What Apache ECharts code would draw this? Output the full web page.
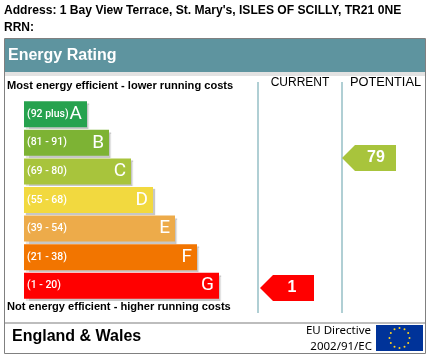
<!DOCTYPE html>
<html>
<head>
<meta charset="utf-8">
<title>Energy Rating</title>
<style>html,body{margin:0;padding:0;background:#fff}#chart{width:428px;height:358px}</style>
<script src="https://cdn.jsdelivr.net/npm/echarts@6/dist/echarts.min.js"></script>
</head>
<body>
<div id="chart"></div>
<script>
var letters = ['A', 'B', 'C', 'D', 'E', 'F', 'G'];
var ranges = ['(92 plus)', '(81 - 91)', '(69 - 80)', '(55 - 68)', '(39 - 54)', '(21 - 38)', '(1 - 20)'];
var barLengths = [63, 85, 107, 129, 151, 173, 195];
var barColors = ['#26A24E', '#7DB334', '#A8C43C', '#F2D93F', '#EDAB4A', '#F27500', '#FF0000'];
var columns = ['CURRENT', 'POTENTIAL'];
var ratings = [1, 79];
var ratingColors = ['#FF0000', '#A8C43C'];

var arrowPath = 'path://M0 13 L13 0 L54 0 L54 26 L13 26 Z';
var myChart = echarts.init(document.getElementById('chart'), null, { renderer: 'canvas' });

function text(x, y, str, font, fill, align) {
  return {
    type: 'text', x: x, y: y, z: 5,
    style: { text: str, font: font, fill: fill || '#000', textAlign: align || 'left', textVerticalAlign: 'middle' }
  };
}

// eu flag stars
var stars = [];
for (var i = 0; i < 12; ++i) {
  var a = i * Math.PI / 6;
  stars.push({
    type: 'circle', z: 6,
    shape: { cx: 399.5 + 10 * Math.sin(a), cy: 338 - 10 * Math.cos(a), r: 1 },
    style: { fill: '#FFD21E' }
  });
}

var option = {
  animation: false,
  backgroundColor: '#fff',
  grid: [
    { left: 24, top: 100, width: 240, height: 200 },
    { left: 258, top: 82, width: 168, height: 231 }
  ],
  xAxis: [
    { gridIndex: 0, type: 'value', min: 0, max: 240, show: false },
    {
      gridIndex: 1, type: 'category', position: 'top', data: columns,
      axisLine: { show: false }, axisTick: { show: false },
      axisLabel: {
        interval: 0, color: '#000', margin: -7,
        formatter: function (v) { return v === 'CURRENT' ? '{c|' + v + '}' : '{p|' + v + '}'; },
        rich: {
          c: { fontFamily: 'Liberation Sans', fontSize: 12 },
          p: { fontFamily: 'Liberation Sans', fontSize: 12.8, padding: [0, 0, 0, 3] }
        }
      },
      splitLine: { show: true, interval: 0, lineStyle: { width: 2, color: ['#B0CFD4', '#B0CFD4', 'transparent'] } }
    }
  ],
  yAxis: [
    { gridIndex: 0, type: 'category', inverse: true, data: letters, show: false },
    { gridIndex: 1, type: 'value', min: -14, max: 124.6, show: false }
  ],
  series: [
    {
      type: 'bar', xAxisIndex: 0, yAxisIndex: 0, barWidth: 26, silent: true,
      data: barLengths.map(function (v, i) {
        return { value: v, itemStyle: { color: barColors[i], shadowColor: 'rgba(0,0,0,0.22)', shadowBlur: 1, shadowOffsetX: 2, shadowOffsetY: 2 } };
      }),
      label: {
        show: true, position: 'insideLeft', distance: 3, color: '#fff',
        fontFamily: 'Roboto', fontWeight: 500, fontSize: 10.5,
        formatter: function (p) { return ranges[p.dataIndex]; }
      }
    },
    {
      type: 'bar', xAxisIndex: 0, yAxisIndex: 0, barWidth: 26, barGap: '-100%', silent: true,
      itemStyle: { color: 'transparent' },
      data: barLengths,
      label: {
        show: true, position: 'insideRight', distance: 5, color: '#fff',
        fontFamily: 'Roboto', fontSize: 19,
        formatter: function (p) { return letters[p.dataIndex]; }
      }
    },
    {
      type: 'scatter', xAxisIndex: 1, yAxisIndex: 1, symbol: arrowPath, symbolSize: [54, 26],
      symbolKeepAspect: false, silent: true,
      data: ratings.map(function (v, i) {
        return {
          value: [columns[i], v],
          symbolOffset: [i === 0 ? -13 : -15, 0],
          itemStyle: { color: ratingColors[i], opacity: 1 },
          label: { show: true, position: 'inside', offset: [i === 0 ? 5 : 7, 0], color: '#fff', fontFamily: 'Liberation Sans', fontWeight: 'bold', fontSize: 16, formatter: String(v) }
        };
      })
    }
  ],
  graphic: [
    { type: 'rect', z: 0, shape: { x: 4.5, y: 38.5, width: 421, height: 315 }, style: { fill: 'none', stroke: '#808080', lineWidth: 1 } },
    { type: 'rect', z: 1, shape: { x: 5, y: 39, width: 420, height: 33 }, style: { fill: '#5E949F' } },
    { type: 'rect', z: 1, shape: { x: 5, y: 72, width: 420, height: 4 }, style: { fill: '#E2E2E2' } },
    { type: 'rect', z: 1, shape: { x: 5, y: 322, width: 420, height: 2 }, style: { fill: '#BDBDBD' } },
    text(4, 11, 'Address: 1 Bay View Terrace, St. Mary\'s, ISLES OF SCILLY, TR21 0NE', 'bold 12.1px "Liberation Sans"'),
    text(4, 28, 'RRN:', 'bold 12px "Liberation Sans"'),
    text(8, 55.5, 'Energy Rating', 'bold 16px "Liberation Sans"', '#fff'),
    text(7, 85.5, 'Most energy efficient - lower running costs', 'bold 11.1px "Liberation Sans"'),
    text(7, 306.5, 'Not energy efficient - higher running costs', 'bold 11.1px "Liberation Sans"'),
    text(12, 337, 'England & Wales', 'bold 16px "Liberation Sans"'),
    text(371, 331, 'EU Directive', '11.5px "Noto Sans"', '#000', 'right'),
    text(372, 347, '2002/91/EC', '11.5px "Noto Sans"', '#000', 'right'),
    { type: 'rect', z: 5, shape: { x: 376, y: 325, width: 47, height: 26 }, style: { fill: '#003399' } }
  ].concat(stars)
};

myChart.setOption(option);
</script>
</body>
</html>
